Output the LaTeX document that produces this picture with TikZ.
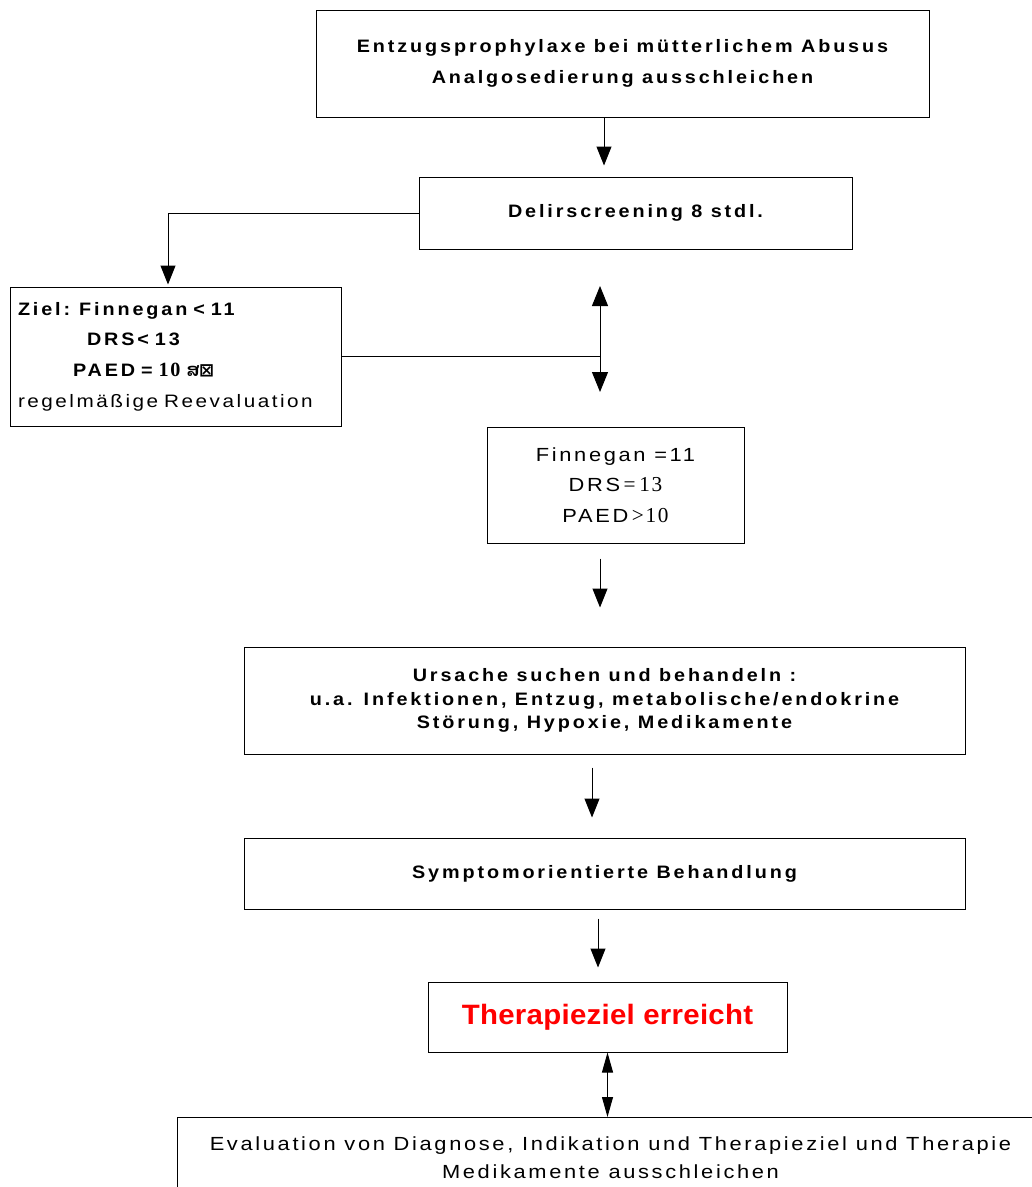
\documentclass[tikz,border=0pt]{standalone}
\usepackage{fontspec}
\setmainfont{Liberation Sans}
% widened, tracked faces for the box texts
\newfontfamily\bfam{Liberation Sans}[FakeStretch=1.1,LetterSpace=16]
\newfontfamily\rfam{Liberation Sans}[FakeStretch=1.15,LetterSpace=14]
\newfontfamily\redfam{Liberation Sans}[FakeStretch=1.05,LetterSpace=1]
\newfontfamily\numserif{Liberation Serif}[LetterSpace=8,Scale=1.12]
\newfontfamily\laofont[Script=Lao]{Dhyana}
\newfontfamily\symfont{DejaVu Sans}
\usetikzlibrary{arrows.meta}

\begin{document}
\begin{tikzpicture}[x=1pt,y=-1pt,line width=1pt,
  box/.style={draw,rectangle,inner sep=0pt,align=center,
    font=\fontsize{18}{31}\selectfont\bfam\bfseries},
  arr/.style={-{Triangle[length=19pt,width=15pt]}},
  dblarr/.style={{Triangle[length=20pt,width=16pt]}-{Triangle[length=20pt,width=16pt]}},
  dblthin/.style={{Triangle[length=20pt,width=11pt]}-{Triangle[length=20pt,width=11pt]}}]
\useasboundingbox (0,0) rectangle (1032,1187);

% boxes of the flow chart
\node[box,minimum width=613pt,minimum height=107pt] (b1) at (622.5,63.5)
  {Entzugsprophylaxe bei mütterlichem Abusus\\Analgosedierung ausschleichen};
\node[box,minimum width=433pt,minimum height=72pt] (b2) at (635.5,213)
  {Delirscreening 8 stdl.};
\node[box,minimum width=331pt,minimum height=139pt,align=left,
  text width=315pt,inner xsep=8pt,font=\fontsize{18}{30.7}\selectfont\bfam] (b3) at (175.5,356.5)
  {{\bfseries Ziel: Finnegan < 11}\\
   \hspace*{69pt}{\bfseries DRS< 13}\\
   \hspace*{55pt}{\bfseries PAED = {\numserif 10} {\laofont ສ}{\symfont ⊠}}\\
   {\fontsize{18}{30.7}\selectfont\rfam\mdseries regelmäßige Reevaluation}};
\node[box,minimum width=257pt,minimum height=116pt,
  font=\fontsize{19}{30.5}\selectfont\rfam\mdseries] (b4) at (615.5,485)
  {Finnegan =11\\DRS{\numserif\,=\,13}\\PAED{\numserif\,>10}};
\node[box,minimum width=721pt,minimum height=107pt,
  font=\fontsize{18}{23.5}\selectfont\bfam\bfseries] (b5) at (604.5,700.5)
  {Ursache suchen und behandeln :\\
   u.a. Infektionen, Entzug, metabolische/endokrine\\
   Störung, Hypoxie, Medikamente};
\node[box,minimum width=721pt,minimum height=71pt] (b6) at (604.5,873.5)
  {Symptomorientierte Behandlung};
\node[box,minimum width=359pt,minimum height=70pt,text=red,
  font=\fontsize{28}{30}\selectfont\redfam\bfseries] (b7) at (607.5,1017)
  {Therapieziel erreicht};
\node[box,minimum width=880pt,minimum height=80pt,anchor=north west,
  font=\fontsize{19}{28}\selectfont\rfam\mdseries] (b8) at (177,1117)
  {\hspace*{-14pt}Evaluation von Diagnose, Indikation und Therapieziel und Therapie\\
   \hspace*{-14pt}Medikamente ausschleichen};

% junction points of the two-way link beside the screening box
\coordinate (jt) at (600,286);
\coordinate (jb) at (600,392);

% connectors
\draw[arr] ([xshift=-18.5pt]b1.south) -- ++(0,48);
\draw[arr] (b2.west) -| ([xshift=-7.5pt,yshift=2pt]b3.north);
\draw[dblarr] (jt) -- (jb);
\draw (b3.east) -- (b3.east -| jt);
\draw[arr] ([xshift=-15.5pt,yshift=-15pt]b4.south) -- ++(0,49);
\draw[arr] ([xshift=-12.5pt,yshift=-13pt]b5.south) -- ++(0,50);
\draw[arr] ([xshift=-6.5pt,yshift=-9pt]b6.south) -- ++(0,49);
\draw[dblthin] (b7.south) -- (b7.south |- b8.north);
\end{tikzpicture}
\end{document}
